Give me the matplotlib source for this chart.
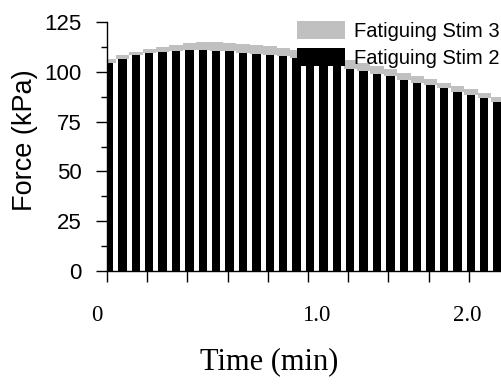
import matplotlib.pyplot as plt
import numpy as np

# force per stimulus (kPa)
stim2 = [104.3, 106.4, 108.4, 109.6, 109.8, 110.6, 110.7, 110.8, 110.6, 110.2,
         109.6, 109.0, 108.4, 107.8, 106.8, 105.6, 104.4, 103.2, 101.6, 100.3,
         99.0, 97.8, 95.8, 94.5, 93.3, 91.8, 90.0, 88.4, 86.8, 85.0]
stim3 = [106.3, 108.4, 110.0, 111.3, 112.5, 113.6, 114.4, 114.8, 114.8, 114.6,
         114.0, 113.4, 112.8, 112.0, 110.9, 109.8, 108.6, 107.4, 106.0, 104.5,
         103.1, 101.6, 99.6, 97.8, 96.2, 94.6, 92.7, 91.2, 89.3, 87.3]
y_ticks = [0, 25, 50, 75, 100, 125]
x_labels = ['0', '1.0', '2.0']
x_label_pos = [-0.9, 15.5, 26.7]

fig = plt.figure(figsize=(5.02, 3.84), dpi=100)
ax = fig.add_axes([107 / 502, 113 / 384, 415.4 / 502, 249 / 384])

x = np.arange(len(stim2))
ax.bar(x, np.array(stim3) - np.array(stim2), bottom=stim2, width=1.0,
       color='#c0c0c0', label='Fatiguing Stim 3')
ax.bar(x, stim2, width=0.64, color='black', label='Fatiguing Stim 2')

for s in ['top', 'right']:
    ax.spines[s].set_visible(False)
for s in ['left', 'bottom']:
    ax.spines[s].set_linewidth(1.0)

ax.set_yticks(y_ticks)
ax.set_yticks(np.arange(12.5, 125, 25), minor=True)
ax.set_yticklabels([str(v) for v in y_ticks], family='Liberation Sans', fontsize=16)
ax.tick_params(axis='y', which='major', length=8, width=1.0, pad=10)
ax.tick_params(axis='y', which='minor', length=4, width=1.0)

ax.set_xticks(np.arange(0, 31, 3) - 0.15)
ax.set_xticklabels([])
ax.tick_params(axis='x', which='major', length=8, width=1.0)
for pos, lab in zip(x_label_pos, x_labels):
    ax.text(pos, -0.18, lab, transform=ax.get_xaxis_transform(),
            ha='center', va='center', family='Liberation Serif', fontsize=16.5,
            clip_on=False)

ax.set_xlim(-0.15, 30.85)
ax.set_ylim(0, 125)

ax.set_xlabel('Time (min)', family='Liberation Serif', fontsize=22)
ax.xaxis.set_label_coords(0.39, -0.365)
ax.xaxis.label.set_verticalalignment('center')
ax.set_ylabel('Force (kPa)', family='Liberation Sans', fontsize=19.5)
ax.yaxis.set_label_coords(-0.197, 0.526)
ax.yaxis.label.set_verticalalignment('center')

h, l = ax.get_legend_handles_labels()
ax.legend(h, l, loc='upper left', bbox_to_anchor=(297 / 502, 1 - 21 / 384),
          bbox_transform=fig.transFigure, frameon=False, borderpad=0,
          borderaxespad=0, handlelength=2.4, handleheight=1.0,
          handletextpad=0.45, labelspacing=0.36,
          prop={'family': 'Liberation Sans', 'size': 14.5})

fig.savefig('out.png', dpi=100)
